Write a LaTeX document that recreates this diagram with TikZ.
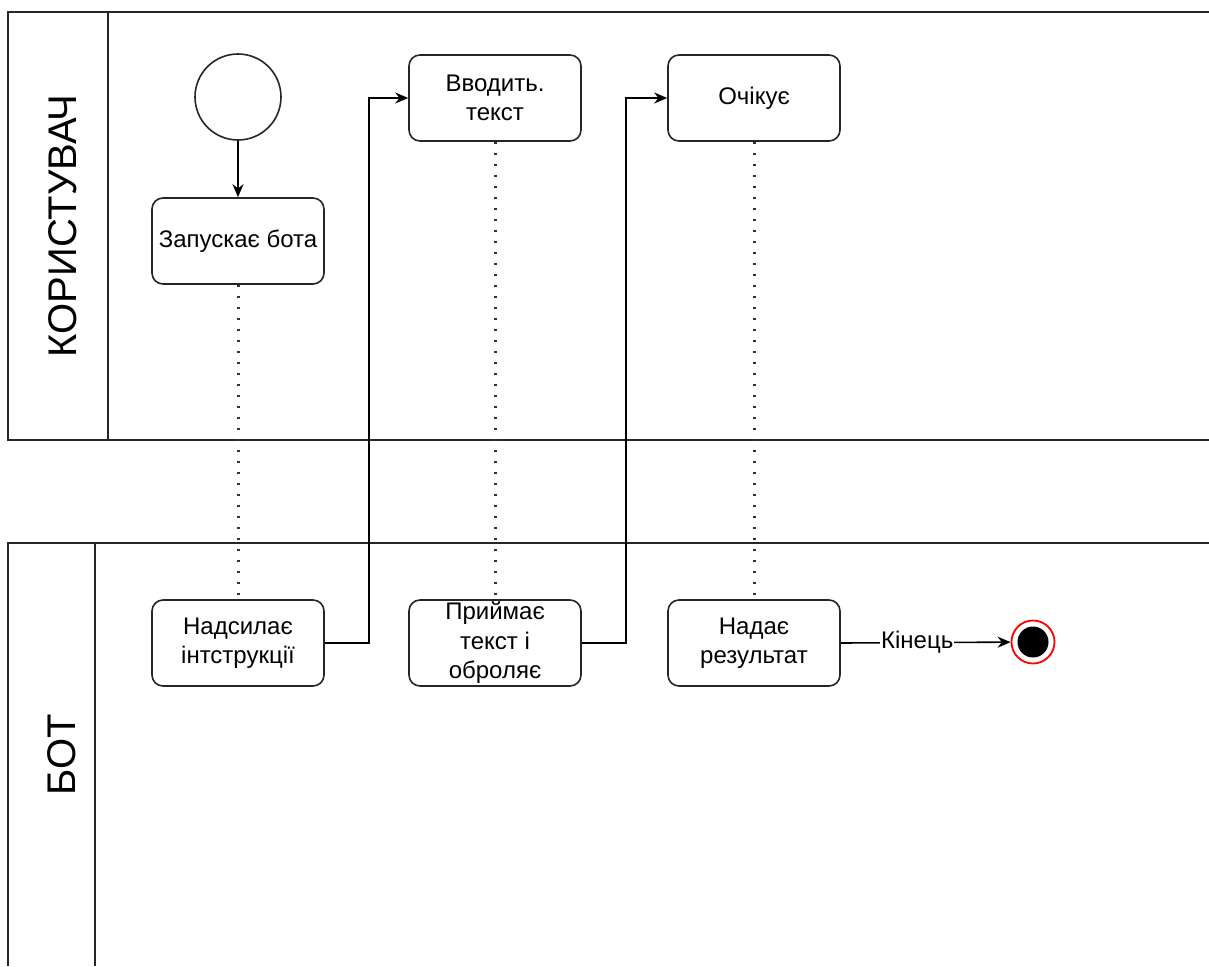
\documentclass[tikz,border=0pt]{standalone}
\usepackage{fontspec}
\setmainfont{Liberation Sans}
\usetikzlibrary{arrows.meta,calc}
\tikzset{
  lane/.style={line width=1.8pt, draw=black!85},
  task/.style={draw=black!85, line width=1.6pt, rounded corners=11pt, minimum width=172pt, minimum height=86pt, align=center, inner sep=0pt, font=\fontsize{24}{29.5}\selectfont},
  flow/.style={line width=1.6pt, -{Stealth[length=13pt,width=11pt]}},
  dotline/.style={line width=3pt, dash pattern=on 2.5pt off 8.5pt, black!80},
  lanelabel/.style={rotate=90, font=\fontsize{40}{44}\selectfont},
  startev/.style={circle, draw=black!85, line width=1.6pt, minimum size=86pt, inner sep=0pt},
  endev/.style={circle, draw=red, fill=white, line width=1.8pt, minimum size=43pt, inner sep=0pt},
  endcore/.style={circle, fill=black, minimum size=31pt, inner sep=0pt},
  flowlabel/.style={fill=white, inner sep=1pt, font=\fontsize{24}{28}\selectfont}
}
\begin{document}
\begin{tikzpicture}[x=1pt, y=-1pt]
\useasboundingbox (0,0) rectangle (1209,966);
% pools
\draw[lane] (1209,12) -- (8,12) -- (8,440) -- (1209,440);
\draw[lane] (108,12) -- (108,440);
\draw[lane] (1209,543) -- (8,543) -- (8,966);
\draw[lane] (95,543) -- (95,966);
\node[lanelabel] (lu) at (63,226) {КОРИСТУВАЧ};
\node[lanelabel] (lb) at (62,755) {БОТ};
% nodes
\node[startev] (s) at (238,97) {};
\node[task] (t1) at (238,241) {Запускає бота};
\node[task] (t3) at (495,98) {Вводить.\\текст};
\node[task] (t5) at (754,98) {Очікує};
\node[task] (t2) at (238,643) {Надсилає\\інтструкції};
\node[task] (t4) at (495,643) {Приймає\\текст і\\оброляє};
\node[task] (t6) at (754,643) {Надає\\результат};
\node[endev] (e) at (1033,642) {};
\node[endcore] (ec) at (1033,642) {};
% connectors
\draw[flow] (s) -- (t1);
\draw[flow] (t2.east) -- ++(44,0) |- (t3.west);
\draw[flow] (t4.east) -- ++(44,0) |- (t5.west);
\draw[flow] (t6.east) -- node[flowlabel, pos=0.45] {Кінець} (e);
\draw[dotline] (t1) -- (t2);
\draw[dotline] (t3) -- (t4);
\draw[dotline] (t5) -- (t6);
\end{tikzpicture}
\end{document}
